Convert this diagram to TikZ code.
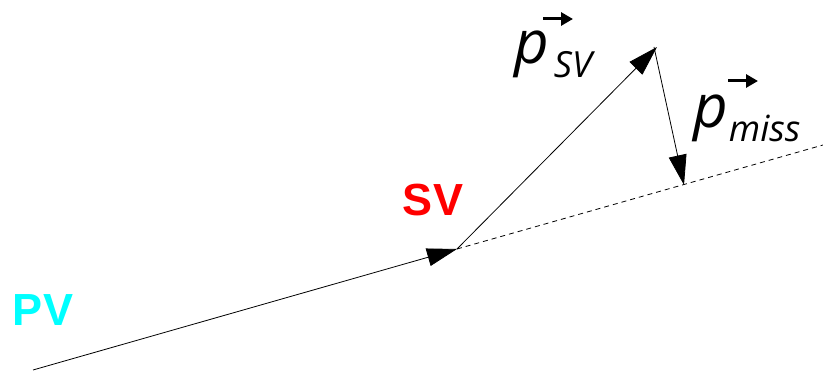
\documentclass[tikz,border=0pt]{standalone}
\usepackage{fontspec}
\newfontfamily\labfont{Open Sans}
\newfontfamily\sansbold{Liberation Sans}
\usetikzlibrary{arrows.meta}
\definecolor{pvcyan}{RGB}{0,255,255}
\definecolor{svred}{RGB}{255,0,0}
\tikzset{
  vec/.style={line width=0.8pt, -{Triangle[length=30pt,width=18pt]}},
  dashline/.style={line width=0.8pt, dash pattern=on 5pt off 4pt},
  veclab/.style={anchor=base west, inner sep=0pt, font=\labfont\itshape},
  overarrow/.style={line width=3pt, -{Triangle[length=12pt,width=13pt]}, shorten >=-2pt},
  bigtag/.style={font=\sansbold\bfseries\fontsize{45}{45}\selectfont, inner sep=0pt}
}
\begin{document}
\begin{tikzpicture}[x=1pt,y=1pt]
\useasboundingbox (0,0) rectangle (823,371);
\coordinate (pv) at (33,1);
\coordinate (sv) at (457,122);
\coordinate (top) at (657,324);
\coordinate (foot) at (684,186);
\coordinate (far) at (823,226);
\draw[vec] (pv) -- (sv);
\draw[vec] (sv) -- (top);
\draw[vec] ([xshift=-3pt]top) -- (foot);
\draw[dashline] (sv) -- (far);
\node[bigtag, text=pvcyan] (pvlab) at (43,61) {PV};
\node[bigtag, text=svred] (svlab) at (433,171) {SV};
\node[veclab] (psv) at (514,307) {{\fontsize{60}{60}\selectfont p}\hspace{5pt}\raisebox{-14pt}{\fontsize{36}{36}\selectfont SV}};
\node[veclab] (pmiss) at (693,243) {{\fontsize{60}{60}\selectfont p}\hspace{1pt}\raisebox{-14pt}{\fontsize{36}{36}\selectfont miss}};
\coordinate (a1) at ([shift={(29,45)}]psv.base west);
\coordinate (a2) at ([shift={(35,47)}]pmiss.base west);
\draw[overarrow] (a1) -- ([xshift=28pt]a1);
\draw[overarrow] (a2) -- ([xshift=28pt]a2);
\end{tikzpicture}
\end{document}
